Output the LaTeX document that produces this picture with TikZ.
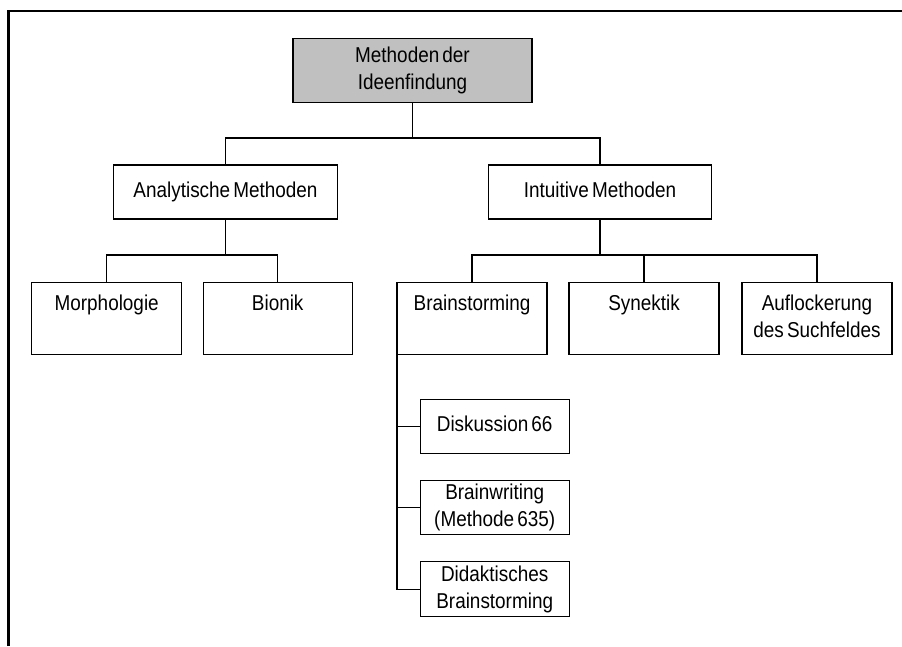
\documentclass[tikz,border=0pt]{standalone}
\usepackage{fontspec}
\setmainfont{Liberation Sans}[FakeStretch=0.88,WordSpace=0.6]
\begin{document}
\begin{tikzpicture}[x=1pt,y=-1pt,
  box/.style={draw=black,line width=1.1pt,inner sep=0pt,outer sep=0pt,align=center,
    font=\fontsize{21.5}{27}\selectfont},
  conn/.style={draw=black,line width=1.1pt},
  frameline/.style={draw=black,line width=2.3pt}]
\useasboundingbox (0,0) rectangle (902,646);
% open frame: top and left edges only
\draw[frameline] (8.5,646) -- (8.5,11) -- (902,11);

% root
\node[box,fill={rgb,255:red,192;green,192;blue,192},minimum width=239pt,minimum height=64pt]
  (root) at (412.5,70.5) {Methoden der\strut\\Ideenfindung\strut};

% first level
\node[box,minimum width=224pt,minimum height=54pt] (analyt) at (225.5,192) {Analytische Methoden\strut};
\node[box,minimum width=223pt,minimum height=54pt] (intuit) at (600,192) {Intuitive Methoden\strut};

% second level
\node[box,minimum width=150pt,minimum height=72pt] (morph) at (106.7,318.3) {Morphologie\strut\\\strut};
\node[box,minimum width=149pt,minimum height=72pt] (bionik) at (277.7,318.3) {Bionik\strut\\\strut};
\node[box,minimum width=150pt,minimum height=72pt] (brain) at (472,318.3) {Brainstorming\strut\\\strut};
\node[box,minimum width=150pt,minimum height=72pt] (synek) at (644,318.3) {Synektik\strut\\\strut};
\node[box,minimum width=150pt,minimum height=72pt] (aufl) at (817,318.3) {Auflockerung\strut\\des Suchfeldes\strut};

% brainstorming variants
\node[box,minimum width=149pt,minimum height=54pt] (disk) at (494.7,426.3) {Diskussion 66\strut};
\node[box,minimum width=149pt,minimum height=54pt] (bw) at (494.7,507.7) {Brainwriting\strut\\(Methode 635)\strut};
\node[box,minimum width=149pt,minimum height=55pt] (didak) at (494.7,589.3) {Didaktisches\strut\\Brainstorming\strut};

% bus levels
\coordinate (bus0) at (0,138);
\coordinate (bus1) at (0,255);

\draw[conn] (root.south) -- (root.south |- bus0) -| (analyt.north);
\draw[conn] (root.south |- bus0) -| (intuit.north);

\draw[conn] (analyt.south) -- (analyt.south |- bus1) -| (morph.north);
\draw[conn] (analyt.south |- bus1) -| (bionik.north);

\draw[conn] (intuit.south) -- (intuit.south |- bus1) -| (brain.north);
\draw[conn] (intuit.south |- bus1) -| (synek.north);
\draw[conn] (intuit.south |- bus1) -| (aufl.north);

\draw[conn] (brain.south west) |- (didak.west);
\draw[conn] (brain.south west |- disk.west) -- (disk.west);
\draw[conn] (brain.south west |- bw.west) -- (bw.west);
\end{tikzpicture}
\end{document}
